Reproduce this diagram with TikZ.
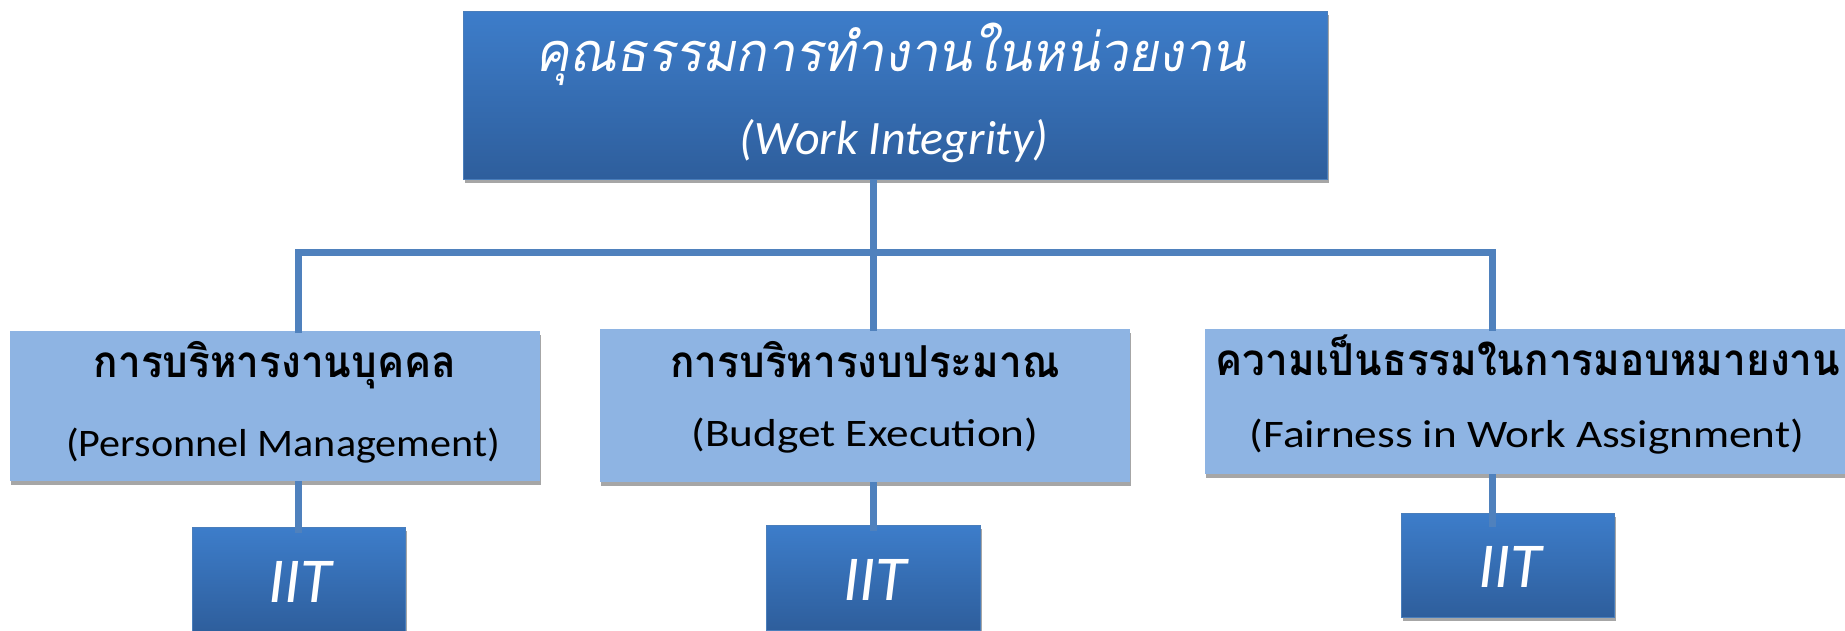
\documentclass[tikz,border=0pt]{standalone}
\usepackage{fontspec}
\usepackage{graphicx}
\setmainfont{Carlito}
\newfontfamily\thaifont[Script=Thai]{Loma}
\newfontfamily\thaislant[Script=Thai,FakeSlant=0.2]{Loma}
\usetikzlibrary{shadows,calc}
\definecolor{topA}{HTML}{3D7DCA}
\definecolor{topB}{HTML}{2E5E9C}
\definecolor{midfill}{HTML}{8EB4E3}
\definecolor{connc}{HTML}{4F81BD}
\definecolor{shade}{HTML}{A6A6A6}
\definecolor{edgec}{HTML}{4A7EBB}
\newcommand\midthai[1]{\scalebox{0.92}[1]{\thaifont\bfseries\fontsize{44}{50}\selectfont #1}}
\newcommand\mideng[2][1.16]{\scalebox{#1}[1]{\fontsize{39}{46}\selectfont #2}}
\newcommand\iit{\itshape\fontsize{64}{70}\selectfont IIT}
\tikzset{
  darkbox/.style={draw=edgec, line width=0.8pt, top color=topA, bottom color=topB, inner sep=0pt,
     drop shadow={shadow xshift=2pt, shadow yshift=-4pt, opacity=0.35, fill=black}},
  lightbox/.style={fill=midfill, draw=none, inner sep=0pt,
     drop shadow={shadow xshift=1pt, shadow yshift=-4pt, opacity=1, fill=shade}},
  conn/.style={draw=connc, line width=7pt},
  lbl/.style={inner sep=0pt, anchor=base},
}
\begin{document}
\begin{tikzpicture}[x=1pt,y=-1pt]
\useasboundingbox (0,0) rectangle (1845,631);
% boxes
\node[darkbox, minimum width=864pt, minimum height=168pt, anchor=north west] (top) at (463,11) {};
\node[lightbox, minimum width=530pt, minimum height=150pt, anchor=north west] (midL) at (10,331) {};
\node[lightbox, minimum width=530pt, minimum height=153pt, anchor=north west] (midM) at (600,329) {};
\node[lightbox, minimum width=644pt, minimum height=145pt, anchor=north west] (midR) at (1205,329) {};
\node[darkbox, minimum width=213pt, minimum height=105pt, anchor=north west] (iitL) at (192,527) {};
\node[darkbox, minimum width=214pt, minimum height=105pt, anchor=north west] (iitM) at (766,525) {};
\node[darkbox, minimum width=213pt, minimum height=104pt, anchor=north west] (iitR) at (1401,513) {};
% texts
\node[lbl, text=white] (t1) at (891,72) {\scalebox{0.94}[1]{\thaislant\fontsize{54}{60}\selectfont คุณธรรมการทำงานในหน่วยงาน}};
\node[lbl, text=white] (t2) at (894,155) {\itshape\fontsize{48}{56}\selectfont (Work Integrity)};
\node[lbl] (l1) at (275,377) {\midthai{การบริหารงานบุคคล}};
\node[lbl] (l2) at (283,456) {\mideng[1.08]{(Personnel Management)}};
\node[lbl] (m1) at (865,377) {\midthai{การบริหารงบประมาณ}};
\node[lbl] (m2) at (865,446) {\mideng{(Budget Execution)}};
\node[lbl] (r1) at (1528,375) {\midthai{ความเป็นธรรมในการมอบหมายงาน}};
\node[lbl] (r2) at (1527,447) {\mideng{(Fairness in Work Assignment)}};
\node[lbl, text=white] (i1) at (300,602) {\iit};
\node[lbl, text=white] (i2) at (875,600) {\iit};
\node[lbl, text=white] (i3) at (1510,587) {\iit};
% connectors
\coordinate (bL) at (298,253);
\coordinate (bM) at (873,253);
\coordinate (bR) at (1492,253);
\draw[conn] (bM |- top.south) -- (bM);
\draw[conn] ([yshift=-2pt]bL |- midL.north) -- (bL) -- (bR) -- ([yshift=-2pt]bR |- midR.north);
\draw[conn] (bM) -- ([yshift=-2pt]bM |- midM.north);
\draw[conn] (bL |- midL.south) -- ([yshift=-6pt]bL |- iitL.north);
\draw[conn] (bM |- midM.south) -- ([yshift=-6pt]bM |- iitM.north);
\draw[conn] (bR |- midR.south) -- ([yshift=-14pt]bR |- iitR.north);
\end{tikzpicture}
\end{document}
